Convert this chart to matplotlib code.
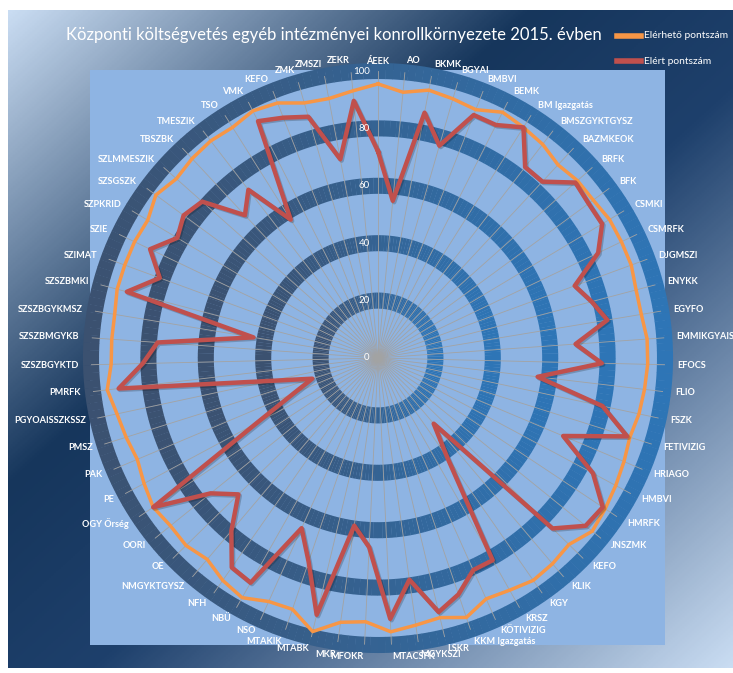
"""Radar chart: Központi költségvetés egyéb intézményei konrollkörnyezete 2015. évben."""

import numpy as np
import matplotlib

matplotlib.use("Agg")
import matplotlib.pyplot as plt
from matplotlib import patheffects as pe
from matplotlib.colors import LinearSegmentedColormap, to_rgb
from matplotlib.lines import Line2D
from matplotlib.patches import Rectangle

categories = [
    "ÁEEK", "AO", "BKMK", "BGYAI", "BMBVI", "BEMK", "BM Igazgatás", "BMSZGYKTGYSZ",
    "BAZMKEOK", "BRFK", "BFK", "CSMKI", "CSMRFK", "DJGMSZI", "ENYKK", "EGYFO",
    "EMMIKGYAIS", "EFOCS", "FLIO", "FSZK", "FETIVIZIG", "HRIAGO", "HMBVI", "HMRFK",
    "JNSZMK", "KEFO", "KLIK", "KGY", "KRSZ", "KÖTIVIZIG", "KKM Igazgatás", "LSKR",
    "MGYKSZI", "MTACSFK", "MFOKR", "MKR", "MTABK", "MTAKIK", "NSO", "NBÜ",
    "NFH", "NMGYKTGYSZ", "OE", "OORI", "OGY Őrség", "PE", "PAK", "PMSZ",
    "PGYOAISSZKSSZ", "PMRFK", "SZSZBGYKTD", "SZSZBMGYKB", "SZSZBGYKMSZ", "SZSZBMKI",
    "SZIMAT", "SZIE", "SZPKRID", "SZSGSZK", "SZLMMESZIK", "TBSZBK", "TMESZIK", "TSO",
    "VMK", "KEFO", "ZMK", "ZMSZI", "ZEKR",
]

# Elérhető pontszám
available = [
    95.5, 93, 95, 94, 93, 96, 95, 94,
    92, 93, 93, 94, 94, 94, 93, 93,
    94, 94, 93.5, 93, 92, 93, 94, 95,
    96, 93, 94, 94.5, 93, 92, 95.5, 93,
    94, 95.5, 92, 93, 98, 92.5, 93, 96,
    94.5, 92, 93.5, 93, 94, 92.5, 91, 92,
    93, 95, 93, 93, 93, 94,
    94, 94, 93.5, 96, 94, 95, 95.5, 95,
    96.5, 95.5, 92.5, 92, 93.5,
]

# Elért pontszám
achieved = [
    72, 55, 87, 77, 91, 91, 95, 84,
    84, 92, 91, 91, 85, 73, 77, 81,
    69, 78, 56, 80, 91, 70, 85, 94,
    93, 85, 30, 42, 81, 81, 87, 91,
    78, 91, 66, 59, 92, 75, 65, 90,
    89, 79, 68, 75, 94, 48, 32, 24,
    38, 91, 82, 77, 44, 90.5,
    81, 88, 81.5, 84, 82, 68, 74, 57,
    92.5, 90, 87.5, 70.5, 90,
]

ring_levels = [20, 40, 60, 80, 100]
tick_levels = [0, 20, 40, 60, 80, 100]

W, H = 733, 673


def fx(px):
    return px / W


def fy(py):
    return 1 - py / H


fig = plt.figure(figsize=(W / 100, H / 100), dpi=100)
fig.patch.set_facecolor("white")

# outer gradient background
bg = fig.add_axes([fx(8), fy(668), fx(725), 658 / H], zorder=-1)
bg.set_axis_off()
gx, gy = np.meshgrid(np.linspace(0, 1, 300), np.linspace(0, 1, 300))
grad = (gx + gy) / 2
bg_cmap = LinearSegmentedColormap.from_list(
    "bg", [(0, "#c9dcf2"), (0.36, "#16365c"), (0.56, "#1e406c"), (1.0, "#c9dcf2")]
)
bg.imshow(grad, cmap=bg_cmap, aspect="auto", extent=[0, 1, 1, 0], vmin=0, vmax=1)

# plot area
bg.add_patch(Rectangle((fx(90), fy(645)), fx(575), 575 / H,
                       transform=fig.transFigure, facecolor="#8eb4e3",
                       edgecolor="none", zorder=2, clip_on=False))

cx, cy, R = 378, 358, 287
ax = fig.add_axes([fx(cx - R), fy(cy + R), fx(2 * R), 2 * R / H], projection="polar")
ax.patch.set_alpha(0)
ax.set_theta_zero_location("N")
ax.set_theta_direction(-1)
ax.set_ylim(0, 100)
ax.spines["polar"].set_visible(False)

n = len(categories)
angles = np.arange(n) * 2 * np.pi / n
ax.set_xticks(angles)
ax.set_xticklabels([])
ax.set_yticks([])
ax.xaxis.grid(True, color="#a3a3a3", linewidth=0.6)
ax.tick_params(length=0)

# thick circular gridlines, darker on the left, brighter on the right
dark = np.array(to_rgb("#3b5170"))
bright = np.array(to_rgb("#2e75b6"))
seg = 240
th = np.arange(seg) * 2 * np.pi / seg
mix = ((1 + np.sin(th + np.pi / seg)) / 2)[:, None]
seg_colors = dark * (1 - mix) + bright * mix
for lev in ring_levels:
    bars = ax.bar(th, 5.6, width=2 * np.pi / seg * 1.05, bottom=lev - 2.8,
                  align="edge", color=seg_colors, edgecolor="none", zorder=1)
    for b in bars:
        b.set_clip_on(False)

ang_c = np.append(angles, angles[0])
ax.plot(ang_c, available + available[:1], color="#f79646", linewidth=2.5,
        zorder=3, clip_on=False)
ax.plot(ang_c, achieved + achieved[:1], color="#c0504d", linewidth=3.2, zorder=4,
        clip_on=False,
        path_effects=[pe.SimpleLineShadow(offset=(1, -1), alpha=0.2), pe.Normal()])

# radial value labels
for lev in tick_levels:
    ax.annotate(str(lev), xy=(0, lev), xytext=(-6, 0), textcoords="offset points",
                ha="right", va="center", color="white", fontsize=7,
                family=["Lato", "DejaVu Sans"], zorder=5)

# category labels
r_lab = 100 + 12 / R * 100
for a, name in zip(angles, categories):
    s, c = np.sin(a), np.cos(a)
    if abs(s) < 0.02:
        ha = "center"
        va = "bottom" if c > 0 else "top"
        r = 100 + 5 / R * 100
    else:
        ha = "left" if s > 0 else "right"
        va = "center"
        r = r_lab
    ax.text(a, r, name, ha=ha, va=va, color="white", fontsize=6.6, fontweight="bold",
            family=["Lato", "DejaVu Sans"], clip_on=False, zorder=5)

fig.text(fx(334), fy(35), "Központi költségvetés egyéb intézményei konrollkörnyezete 2015. évben",
         ha="center", va="center", color="white", fontsize=12,
         family=["Lato", "DejaVu Sans"])

# legend
for ypx, col, label in [(36, "#f79646", "Elérhető pontszám"), (61, "#c0504d", "Elért pontszám")]:
    fig.lines.append(Line2D([fx(617), fx(641)], [fy(ypx), fy(ypx)], color=col,
                            linewidth=4, transform=fig.transFigure))
    fig.text(fx(644), fy(ypx), label, ha="left", va="center", color="white",
             fontsize=7.4, family=["Lato", "DejaVu Sans"])

fig.savefig("out.png", dpi=100)
